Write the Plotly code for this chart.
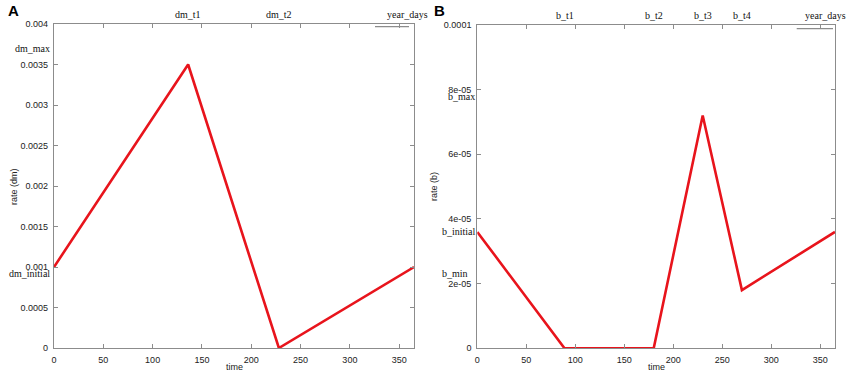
import plotly.graph_objects as go

W, H = 851, 373

# ---- data ----
days_a = [0, 136, 228, 365]
rate_dm = [0.001, 0.0035, 0.0, 0.001]

days_b = [0, 89, 180, 230, 270, 365]
rate_b = [3.6e-05, 0.0, 0.0, 7.2e-05, 1.8e-05, 3.6e-05]

x_ticks = [0, 50, 100, 150, 200, 250, 300, 350]
ya_ticks = [0, 0.0005, 0.001, 0.0015, 0.002, 0.0025, 0.003, 0.0035, 0.004]
ya_text = ["0", "0.0005", "0.001", "0.0015", "0.002", "0.0025", "0.003", "0.0035", "0.004"]
yb_ticks = [0, 2e-05, 4e-05, 6e-05, 8e-05, 1e-04]
yb_text = ["0", "2e-05", "4e-05", "6e-05", "8e-05", "0.0001"]

top_a_names = ["dm_t1", "dm_t2", "year_days"]
top_a_pos = [136, 228, 365]
top_b_names = ["b_t1", "b_t2", "b_t3", "b_t4", "year_days"]
top_b_pos = [89, 180, 230, 270, 365]

side_a_names = ["dm_max", "dm_initial"]
side_a_pos = [0.0037, 0.00092]
side_b_names = ["b_max", "b_initial", "b_min"]
side_b_pos = [7.8e-05, 3.6e-05, 2.3e-05]

RED = "#e8141c"
AX = "#8c8c8c"


def px(x):
    return x / W


def py(y):
    return 1 - y / H


fig = go.Figure()
fig.add_trace(go.Scatter(x=days_a, y=rate_dm, mode="lines",
                         line=dict(color=RED, width=2.6), xaxis="x", yaxis="y",
                         showlegend=False, hoverinfo="skip"))
fig.add_trace(go.Scatter(x=days_b, y=rate_b, mode="lines",
                         line=dict(color=RED, width=2.6), xaxis="x2", yaxis="y2",
                         showlegend=False, hoverinfo="skip"))

tickfont = dict(family="Liberation Sans, Arial", size=9, color="#222")
axcommon = dict(showline=True, linecolor=AX, linewidth=1.2, mirror="allticks",
                ticks="inside", ticklen=4, tickcolor=AX, showgrid=False,
                zeroline=False, tickfont=tickfont, automargin=False)

fig.update_layout(
    width=W, height=H, autosize=False,
    margin=dict(l=0, r=0, t=0, b=0, pad=0, autoexpand=False),
    paper_bgcolor="white", plot_bgcolor="white",
    xaxis=dict(domain=[px(54), px(414)], range=[0, 365], anchor="y",
               tickvals=x_ticks, ticklabelstandoff=3, **axcommon),
    yaxis=dict(domain=[py(348), py(24)], range=[0, 0.004], anchor="x",
               tickvals=ya_ticks, ticktext=ya_text, ticklabelstandoff=3, **axcommon),
    xaxis2=dict(domain=[px(477.3), px(835)], range=[0, 365], anchor="y2",
                tickvals=x_ticks, ticklabelstandoff=3, **axcommon),
    yaxis2=dict(domain=[py(348.3), py(25)], range=[0, 1e-04], anchor="x2",
                tickvals=yb_ticks, ticktext=yb_text, ticklabelstandoff=3, **axcommon),
)

ann = []
serif = dict(family="Liberation Serif, Times New Roman", size=10, color="#111")
sans = dict(family="Liberation Sans, Arial", size=9, color="#222")

# top labels
for name, pos in zip(top_a_names, top_a_pos):
    shift = -7 if name == "year_days" else 0
    ann.append(dict(x=pos, y=py(22), xref="x", yref="paper", text=name, showarrow=False,
                    font=serif, xanchor="center", yanchor="bottom", xshift=shift))
for name, pos in zip(top_b_names, top_b_pos):
    shift = -10 if name == "year_days" else 0
    ann.append(dict(x=pos, y=py(23), xref="x2", yref="paper", text=name, showarrow=False,
                    font=serif, xanchor="center", yanchor="bottom", xshift=shift))

# side labels
for name, val in zip(side_a_names, side_a_pos):
    ann.append(dict(x=px(52), y=val, xref="paper", yref="y", text=name, showarrow=False,
                    font=serif, xanchor="right", yanchor="middle"))
b_right = {"b_max": 477, "b_initial": 478, "b_min": 470}
for name, val in zip(side_b_names, side_b_pos):
    ann.append(dict(x=px(b_right[name]), y=val, xref="paper", yref="y2", text=name,
                    showarrow=False, font=serif, xanchor="right", yanchor="middle"))

# axis titles
ann.append(dict(x=px(234), y=py(367), xref="paper", yref="paper", text="time",
                showarrow=False, font=sans, xanchor="center", yanchor="middle"))
ann.append(dict(x=px(656), y=py(367), xref="paper", yref="paper", text="time",
                showarrow=False, font=sans, xanchor="center", yanchor="middle"))
ann.append(dict(x=px(14), y=py(187), xref="paper", yref="paper", text="rate (dm)",
                showarrow=False, font=sans, textangle=-90, xanchor="center", yanchor="middle"))
ann.append(dict(x=px(434), y=py(187), xref="paper", yref="paper", text="rate (b)",
                showarrow=False, font=sans, textangle=-90, xanchor="center", yanchor="middle"))

# panel letters
bold = dict(family="Liberation Sans, Arial", size=15, color="#000")
ann.append(dict(x=px(6), y=py(10), xref="paper", yref="paper", text="<b>A</b>",
                showarrow=False, font=bold, xanchor="left", yanchor="middle"))
ann.append(dict(x=px(432), y=py(10), xref="paper", yref="paper", text="<b>B</b>",
                showarrow=False, font=bold, xanchor="left", yanchor="middle"))

fig.update_layout(annotations=ann)

# key sample lines near "year_days"
fig.add_shape(type="line", xref="paper", yref="paper", x0=px(375), x1=px(409),
              y0=py(26.7), y1=py(26.7), line=dict(color=AX, width=1.2))
fig.add_shape(type="line", xref="paper", yref="paper", x0=px(796.7), x1=px(833),
              y0=py(28.7), y1=py(28.7), line=dict(color=AX, width=1.2))

fig.write_html("out.html", config={"displayModeBar": False},
               post_script="document.body.style.margin='0';document.body.style.padding='0';"
                           "document.body.style.overflow='hidden';")
